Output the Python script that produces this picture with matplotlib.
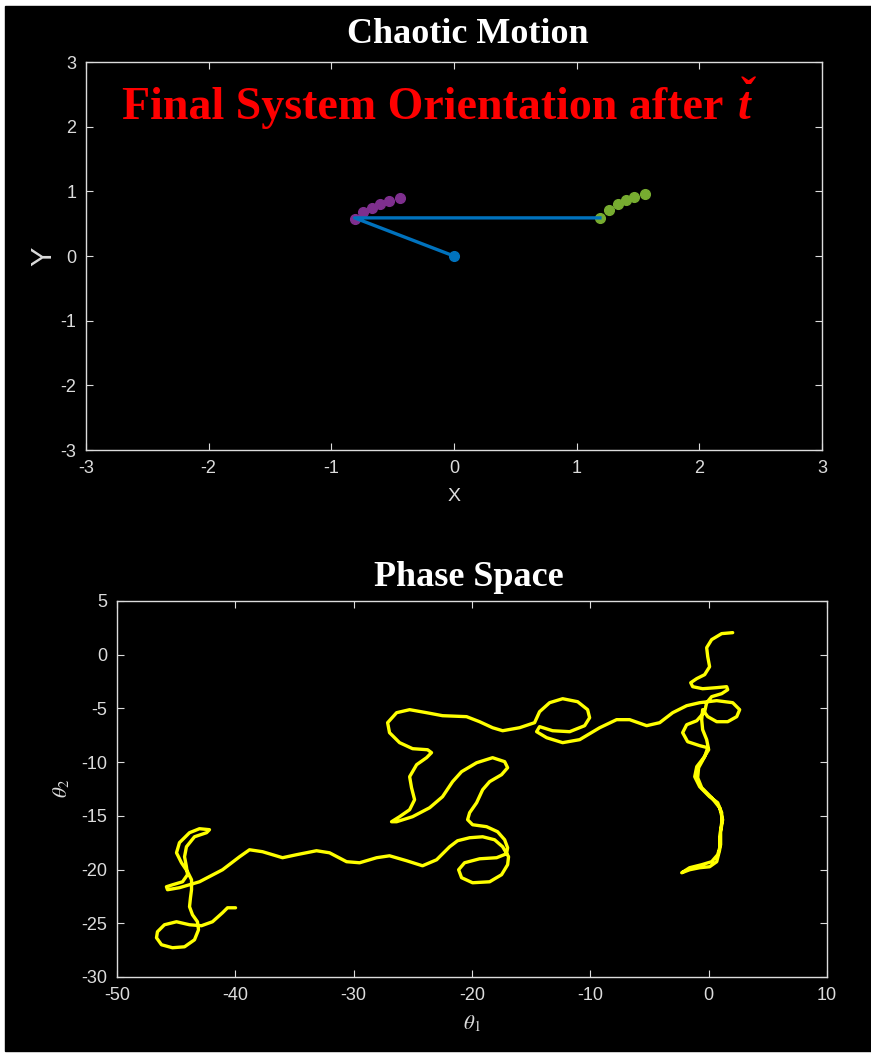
import matplotlib.pyplot as plt
from matplotlib.patches import Rectangle

# final pendulum state (top panel)
pivot_x = [0.0]
pivot_y = [0.0]
rod_x = [0.0, -0.81, 1.19]
rod_y = [0.0, 0.59, 0.59]
trail1_x = [-0.81, -0.74, -0.67, -0.60, -0.53, -0.44]
trail1_y = [0.58, 0.68, 0.74, 0.80, 0.85, 0.90]
trail2_x = [1.19, 1.26, 1.34, 1.40, 1.47, 1.56]
trail2_y = [0.59, 0.71, 0.80, 0.87, 0.91, 0.96]

top_ticks = [-3, -2, -1, 0, 1, 2, 3]

# phase space trajectory (bottom panel)
theta1 = [
    -39.98, -40.66, -41.08, -41.93, -42.86, -43.87, -44.97, -45.99, -46.58, -46.66,
    -46.24, -45.31, -44.29, -43.45, -43.11, -43.20, -43.62, -43.87, -43.79, -43.70,
    -43.70, -44.04, -44.55, -44.97, -44.72, -43.87, -43.03, -42.18, -42.43, -43.45,
    -44.13, -44.29, -44.13, -44.04, -44.46, -45.31, -45.82, -45.73, -44.72, -43.03,
    -41.08, -39.64, -38.80, -37.70, -36.01, -34.83, -33.14, -32.04, -30.60, -29.50,
    -28.06, -26.97, -25.53, -24.18, -22.99, -21.89, -21.22, -20.20, -19.10, -18.09,
    -17.41, -16.91, -16.99, -17.50, -18.51, -19.95, -20.88, -21.13, -20.63, -19.36,
    -17.92, -17.08, -16.99, -17.24, -17.84, -18.77, -19.95, -20.37, -20.20, -19.61,
    -19.10, -18.51, -17.50, -16.99, -17.24, -18.26, -19.61, -20.88, -21.64, -22.49,
    -23.58, -25.02, -26.37, -26.80, -26.12, -25.27, -24.85, -25.11, -25.27, -24.68,
    -23.84, -23.42, -23.75, -25.02, -26.12, -26.97, -27.13, -26.37, -25.27, -23.84,
    -22.49, -20.46, -19.36, -18.26, -17.41, -15.98, -14.71, -14.29, -13.44, -12.34,
    -11.07, -10.23, -10.06, -10.48, -11.75, -13.19, -14.29, -14.54, -13.69, -12.34,
    -10.90, -9.21, -7.78, -6.68, -5.24, -4.14, -3.04, -1.86, -0.76, 0.68,
    2.03, 2.62, 2.37, 1.61, 0.68, -0.08, -0.51, -0.59, -0.51, -0.17,
    0.00, -0.42, -1.01, -1.18, -0.76, 0.08, 0.76, 1.10, 1.10, 0.93,
    0.93, 0.68, 0.08, -0.76, -1.61, -2.28, -1.61, -0.59, 0.25, 0.76,
    1.01, 1.01, 1.18, 0.93, 0.25, -0.59, -0.93, -0.85, -0.34, -0.08,
    -0.76, -1.78, -2.20, -1.86, -1.01, -0.34, -0.17, 0.25, 1.10, 1.61,
    1.52, 0.68, -0.51, -1.35, -1.52, -1.01, -0.34, 0.08, -0.08, -0.17,
    0.25, 1.10, 2.03,
]
theta2 = [
    -23.56, -23.56, -24.02, -24.86, -25.23, -25.14, -24.86, -25.14, -25.79, -26.35,
    -27.00, -27.28, -27.19, -26.54, -25.61, -24.86, -24.21, -23.46, -22.63, -21.88,
    -20.95, -20.20, -19.37, -18.44, -17.50, -16.57, -16.20, -16.29, -16.57, -16.95,
    -17.88, -18.81, -19.74, -20.48, -21.14, -21.42, -21.60, -21.88, -21.69, -21.14,
    -20.02, -18.81, -18.16, -18.34, -18.90, -18.62, -18.25, -18.44, -19.27, -19.37,
    -18.90, -18.72, -19.18, -19.65, -19.09, -17.88, -17.32, -17.04, -16.95, -17.23,
    -17.88, -18.81, -19.55, -20.48, -21.14, -21.23, -20.76, -20.02, -19.37, -19.00,
    -18.90, -18.53, -17.97, -17.23, -16.48, -16.01, -15.83, -15.36, -14.71, -13.78,
    -12.57, -11.82, -11.17, -10.52, -9.96, -9.59, -10.06, -10.89, -11.82, -13.22,
    -14.25, -15.08, -15.55, -15.55, -15.08, -14.43, -13.50, -12.38, -11.36, -10.24,
    -9.59, -9.12, -8.85, -8.75, -8.19, -7.26, -6.33, -5.40, -5.12, -5.40,
    -5.68, -5.77, -6.24, -6.80, -7.08, -6.80, -6.33, -5.31, -4.47, -4.10,
    -4.38, -5.12, -5.87, -6.61, -7.17, -7.08, -6.70, -7.17, -7.73, -8.19,
    -7.91, -6.80, -6.05, -6.05, -6.61, -6.33, -5.40, -4.75, -4.47, -4.28,
    -4.47, -5.12, -5.77, -6.24, -6.24, -5.77, -5.12, -6.05, -6.98, -7.91,
    -8.85, -9.59, -10.43, -11.36, -12.29, -13.22, -13.78, -14.71, -15.64, -16.95,
    -18.16, -19.27, -19.74, -19.83, -20.02, -20.30, -19.83, -19.55, -19.27, -18.62,
    -17.69, -16.48, -15.36, -14.25, -13.31, -12.38, -11.45, -10.52, -9.50, -8.66,
    -8.47, -8.10, -7.26, -6.52, -6.15, -5.31, -4.47, -3.91, -3.63, -3.26,
    -2.98, -3.07, -3.17, -2.98, -2.61, -2.23, -1.86, -1.12, -0.19, 0.65,
    1.40, 1.96, 2.05,
]

phase_xticks = [-50, -40, -30, -20, -10, 0, 10]
phase_yticks = [5, 0, -5, -10, -15, -20, -25, -30]

AXCOL = '#dcdcdc'

plt.rcParams['font.family'] = 'Liberation Sans'
plt.rcParams['axes.unicode_minus'] = False


def style_axes(ax):
    """
    MATLAB-ish dark axes: box on, ticks inside on every side
    """
    ax.set_facecolor('black')
    for s in ax.spines.values():
        s.set_color(AXCOL)
        s.set_linewidth(1.0)
    ax.tick_params(direction='in', top=True, right=True, colors=AXCOL,
                   labelsize=13, length=5, width=0.8)
    ax.tick_params(axis='x', pad=7)
    ax.tick_params(axis='y', pad=7)


def pendulum_plot(fig):
    """
    Top panel: where the double pendulum ends up
    """
    ax = fig.add_axes([0.0987, 0.5726, 0.845, 0.3685])
    style_axes(ax)

    ax.plot(trail1_x, trail1_y, 'o', color='#7e2f8e', markersize=7, zorder=2)
    ax.plot(trail2_x, trail2_y, 'o', color='#77ac30', markersize=7, zorder=2)
    ax.plot(rod_x, rod_y, '-', color='#0072bd', linewidth=2.4, zorder=3)
    ax.plot(pivot_x, pivot_y, 'o', color='#0072bd', markersize=7, zorder=4)

    ax.set_xlim(-3, 3)
    ax.set_ylim(-3, 3)
    ax.set_xticks(top_ticks)
    ax.set_yticks(top_ticks)

    ax.set_xlabel("X", color=AXCOL, fontsize=14, labelpad=8)
    ax.set_ylabel("Y", color=AXCOL, fontsize=21, labelpad=2)

    # red annotation, the t with its caron is set by hand
    red = dict(color='red', fontsize=33, fontweight='bold',
               family='Liberation Serif', va='baseline')
    ax.text(-2.71, 2.12, "Final System Orientation after", ha='left', **red)
    ax.text(2.31, 2.12, "t", ha='left', style='italic', **red)
    ax.text(2.40, 2.27, "\u02c7", ha='center', **red)

    fig.text(0.537, 0.9668, "Chaotic Motion", color='white', fontsize=26,
             fontweight='bold', family='Liberation Serif', ha='center', va='center')


def phase_plot(fig):
    """
    Bottom panel: theta1 vs theta2
    """
    ax = fig.add_axes([0.1343, 0.0722, 0.8152, 0.3571])
    style_axes(ax)

    ax.plot(theta1, theta2, '-', color='yellow', linewidth=2.4,
            solid_joinstyle='round', solid_capstyle='round')

    ax.set_xlim(-50, 10)
    ax.set_ylim(-30, 5)
    ax.set_xticks(phase_xticks)
    ax.set_yticks(phase_yticks)

    ax.set_xlabel(r"$\theta_1$", color=AXCOL, fontsize=15, labelpad=7,
                  math_fontfamily='stix')
    ax.set_ylabel(r"$\theta_2$", color=AXCOL, fontsize=15, labelpad=7,
                  math_fontfamily='stix')

    fig.text(0.538, 0.452, "Phase Space", color='white', fontsize=26,
             fontweight='bold', family='Liberation Serif', ha='center', va='center')


def main():
    fig = plt.figure(figsize=(8.71, 10.53), dpi=100, facecolor='white')
    # thin white frame on the top/left of the original screenshot
    fig.patches.append(Rectangle((0.0057, 0.002), 0.9943, 0.9923,
                                 transform=fig.transFigure, color='black', zorder=-10))
    pendulum_plot(fig)
    phase_plot(fig)
    fig.savefig("out.png", dpi=100, facecolor='white')


if __name__ == "__main__":
    main()
